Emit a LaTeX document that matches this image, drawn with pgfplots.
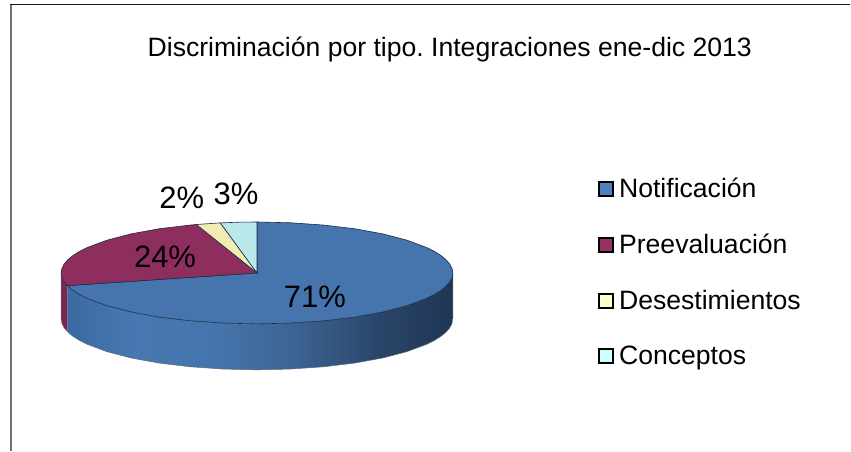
\documentclass[border=0pt]{standalone}
\usepackage{pgfplots}
\pgfplotsset{compat=1.18}
\usepackage{fontspec}
\setmainfont{Liberation Sans}
\frenchspacing
\definecolor{cBlue}{HTML}{4675AD}
\definecolor{cMaroon}{HTML}{8E2E5F}
\definecolor{cCream}{HTML}{F0ECB4}
\definecolor{cCyan}{HTML}{B9E8EA}
\definecolor{lBlue}{HTML}{4F81BD}
\definecolor{lMaroon}{HTML}{953163}
\definecolor{lCream}{HTML}{FFFFCC}
\definecolor{lCyan}{HTML}{CCFFFF}
\definecolor{edgeC}{HTML}{1C2C44}
\definecolor{wA}{HTML}{3B6AA2}
\definecolor{wB}{HTML}{4878B1}
\definecolor{wC}{HTML}{4474AB}
\definecolor{wD}{HTML}{3C6291}
\definecolor{wE}{HTML}{2B466B}
\definecolor{wF}{HTML}{1F3554}
\pgfdeclarehorizontalshading{wall}{100bp}{
 color(0bp)=(wA);
 color(25bp)=(wA);
 color(34bp)=(wB);
 color(45bp)=(wC);
 color(55bp)=(wD);
 color(65bp)=(wE);
 color(75bp)=(wF);
 color(100bp)=(wF)}
\begin{document}
\begin{tikzpicture}
\begin{axis}[
  scale only axis, width=851pt, height=451pt,
  xmin=0, xmax=851, ymin=0, ymax=451, y dir=reverse,
  axis lines=none, clip=false,
  legend cell align=left,
  legend style={at={(axis cs:598,176)}, anchor=north west, draw=none, fill=none,
    font=\fontsize{26.6}{28}\selectfont, row sep=31.1pt, inner sep=0pt, outer sep=0pt,
    /tikz/every odd column/.append style={column sep=3.5pt}},
  legend image code/.code={\draw[line width=2pt, #1, draw=black] (1pt,-7pt) rectangle (15pt,7pt);},
]
% page and frame
\addplot[forget plot, draw=white, fill=white] coordinates {(0,0)(851,0)(851,451)(0,451)} --cycle;
\addplot[forget plot, draw=black!55, line width=2pt] coordinates {(11,451)(11,4.5)};
\addplot[forget plot, draw=black!90, line width=1.2pt] coordinates {(10,4.5)(851,4.5)};
% wall: notification
\addplot[forget plot, draw=none, shading=wall, shading angle=0] coordinates {
 (453,273)(452.3,277.4)(450,281.9)(446.3,286.2)(441.2,290.4)(434.6,294.6)(426.7,298.5)(407.1,305.8)(383,312.1)(355,317.2)(324,320.9)(291,323.2)(257,324)(223,323.2)(190,320.9)(159,317.2)(131,312.1)(106.9,305.8)(87.3,298.5)(79.4,294.6)(72.8,290.4)(67.2,285.7)
 (67.2,331.7)(72.8,336.4)(79.4,340.6)(87.3,344.5)(106.9,351.8)(131,358.1)(159,363.2)(190,366.9)(223,369.2)(257,370)(291,369.2)(324,366.9)(355,363.2)(383,358.1)(407.1,351.8)(426.7,344.5)(434.6,340.6)(441.2,336.4)(446.3,332.2)(450,327.9)(452.3,323.4)(453,319)
} --cycle;
% wall: preevaluation
\addplot[forget plot, draw=none, fill=cMaroon!85!black] coordinates {
 (67.2,285.7)(64,281.9)(61.7,277.4)(61,273)(61,319)(61.7,323.4)(64,327.9)(67.2,331.7)} --cycle;
% outer outline of the wall
\addplot[forget plot, draw=edgeC!70, line width=0.5pt] coordinates {
 (61,273)(61,319)(61.7,323.4)(64,327.9)(67.2,331.7)(72.8,336.4)(79.4,340.6)(87.3,344.5)(106.9,351.8)(131,358.1)(159,363.2)(190,366.9)(223,369.2)(257,370)(291,369.2)(324,366.9)(355,363.2)(383,358.1)(407.1,351.8)(426.7,344.5)(434.6,340.6)(441.2,336.4)(446.3,332.2)(450,327.9)(452.3,323.4)(453,319)(453,273)};
% top slices
\addplot[draw=edgeC, line width=0.6pt, fill=cBlue, legend image post style={fill=lBlue}] coordinates {
 (257,273)(257,222)(291,222.8)(324,225.1)(355,228.8)(383,233.9)(407.1,240.2)(426.7,247.5)(434.6,251.4)(441.2,255.6)(446.3,259.8)(450,264.1)(452.3,268.6)(453,273)(452.3,277.4)(450,281.9)(446.3,286.2)(441.2,290.4)(434.6,294.6)(426.7,298.5)(407.1,305.8)(383,312.1)(355,317.2)(324,320.9)(291,323.2)(257,324)(223,323.2)(190,320.9)(159,317.2)(131,312.1)(106.9,305.8)(87.3,298.5)(79.4,294.6)(72.8,290.4)(67.2,285.7)} --cycle;
\addlegendentry{Notificación}
\addplot[draw=edgeC, line width=0.6pt, fill=cMaroon, legend image post style={fill=lMaroon}] coordinates {
 (257,273)(67.2,285.7)(64,281.9)(61.7,277.4)(61,273)(61.7,268.6)(64,264.1)(67.7,259.8)(72.8,255.6)(79.4,251.4)(87.3,247.5)(106.9,240.2)(131,233.9)(159,228.8)(190,225.1)(196.4,224.5)} --cycle;
\addlegendentry{Preevaluación}
\addplot[draw=edgeC, line width=0.6pt, fill=cCream, legend image post style={fill=lCream}] coordinates {
 (257,273)(196.4,224.5)(220.3,222.9)} --cycle;
\addlegendentry{Desestimientos}
\addplot[draw=edgeC, line width=0.6pt, fill=cCyan, legend image post style={fill=lCyan}] coordinates {
 (257,273)(220.3,222.9)(239,222.2)(257,222)} --cycle;
\addlegendentry{Conceptos}
% texts
\node[font=\fontsize{26.6}{28}\selectfont, anchor=center] at (axis cs:450,49) {Discriminación por tipo. Integraciones ene-dic 2013};
\node[font=\fontsize{31}{33}\selectfont] at (axis cs:315,297) {71\%};
\node[font=\fontsize{31}{33}\selectfont] at (axis cs:165,257) {24\%};
\node[font=\fontsize{31}{33}\selectfont] at (axis cs:181.7,198) {2\%};
\node[font=\fontsize{31}{33}\selectfont] at (axis cs:236,194) {3\%};
\end{axis}
\end{tikzpicture}
\end{document}
